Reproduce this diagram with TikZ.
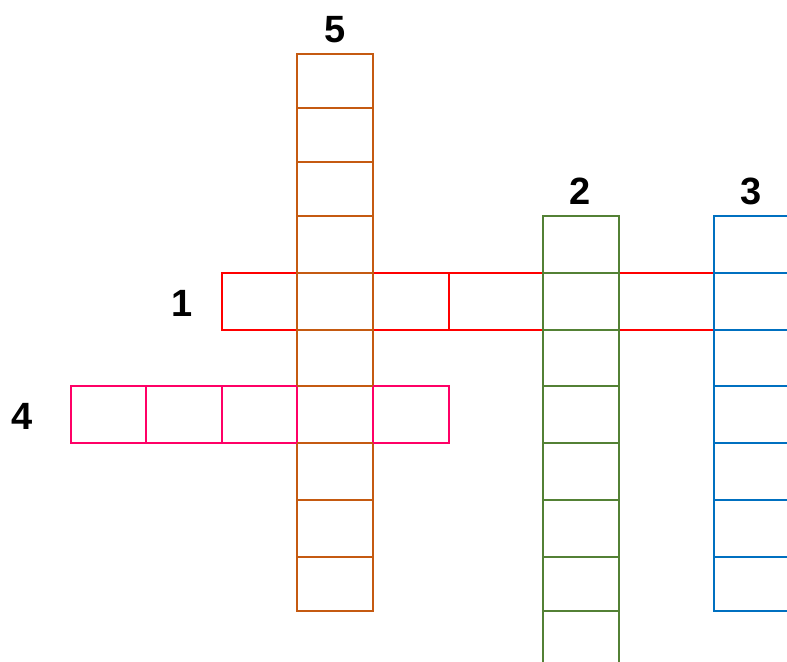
\documentclass[tikz,border=0pt]{standalone}
\usepackage{fontspec}
\setmainfont{Liberation Sans}
\usepackage{tikz}
\usetikzlibrary{positioning, calc}
\definecolor{wordOrange}{HTML}{C55A11}
\definecolor{wordGreen}{HTML}{538135}
\definecolor{wordBlue}{HTML}{0070C0}
\definecolor{wordRed}{HTML}{FF0000}
\definecolor{wordPink}{HTML}{FF0066}
% column: colour, left x, top y, bottom y
\newcommand{\DrawColumn}[4]{
    \draw[cellLine, draw=#1] (#2,#3) rectangle ($(#2,#4)+(76,0)$);
}
\tikzset{
    % Grid
    cellLine/.style={line width=1pt},
    % Numbers
    clueNum/.style={font=\fontsize{19}{20}\selectfont\bfseries, text=black, inner sep=0pt}
}
\begin{document}
\begin{tikzpicture}[x=0.5pt, y=-0.5pt]
    \useasboundingbox (0,0) rectangle (787,662);
    \clip (0,0) rectangle (787,662);
    % 1 across
    \draw[cellLine, draw=wordRed] (221.7,272.7) rectangle (714,330);
    \foreach \x in {297,373,449,543,619}
        \draw[cellLine, draw=wordRed] (\x,272.7) -- (\x,330);
    % 5 down (outline first, dividers after 4 across)
    \DrawColumn{wordOrange}{297}{54}{610.7}
    % 4 across
    \draw[cellLine, draw=wordPink] (70.7,386) rectangle (449,442.7);
    \foreach \x in {146,222,297,373}
        \draw[cellLine, draw=wordPink] (\x,386) -- (\x,442.7);
    \foreach \y in {107.7,161.7,215.7,272.7,330,386,442.7,499.7,556.7}
        \draw[cellLine, draw=wordOrange] (297,\y) -- (373,\y);
    % 2 down
    \DrawColumn{wordGreen}{543}{215.7}{667.5}
    \foreach \y in {272.7,330,386,442.7,499.7,556.7,610.7}
        \draw[cellLine, draw=wordGreen] (543,\y) -- (619,\y);
    % 3 down
    \DrawColumn{wordBlue}{713.7}{215.7}{610.7}
    \foreach \y in {272.7,330,386,442.7,499.7,556.7}
        \draw[cellLine, draw=wordBlue] (713.7,\y) -- (789.7,\y);
    % clue numbers
    \node[clueNum] (numFive) at (335.5,30) {5};
    \node[clueNum] (numTwo) at (580.5,191) {2};
    \node[clueNum] (numThree) at (751,191) {3};
    \node[clueNum] (numOne) at (182.5,303) {1};
    \node[clueNum] (numFour) at (22.5,416.5) {4};
\end{tikzpicture}
\end{document}
